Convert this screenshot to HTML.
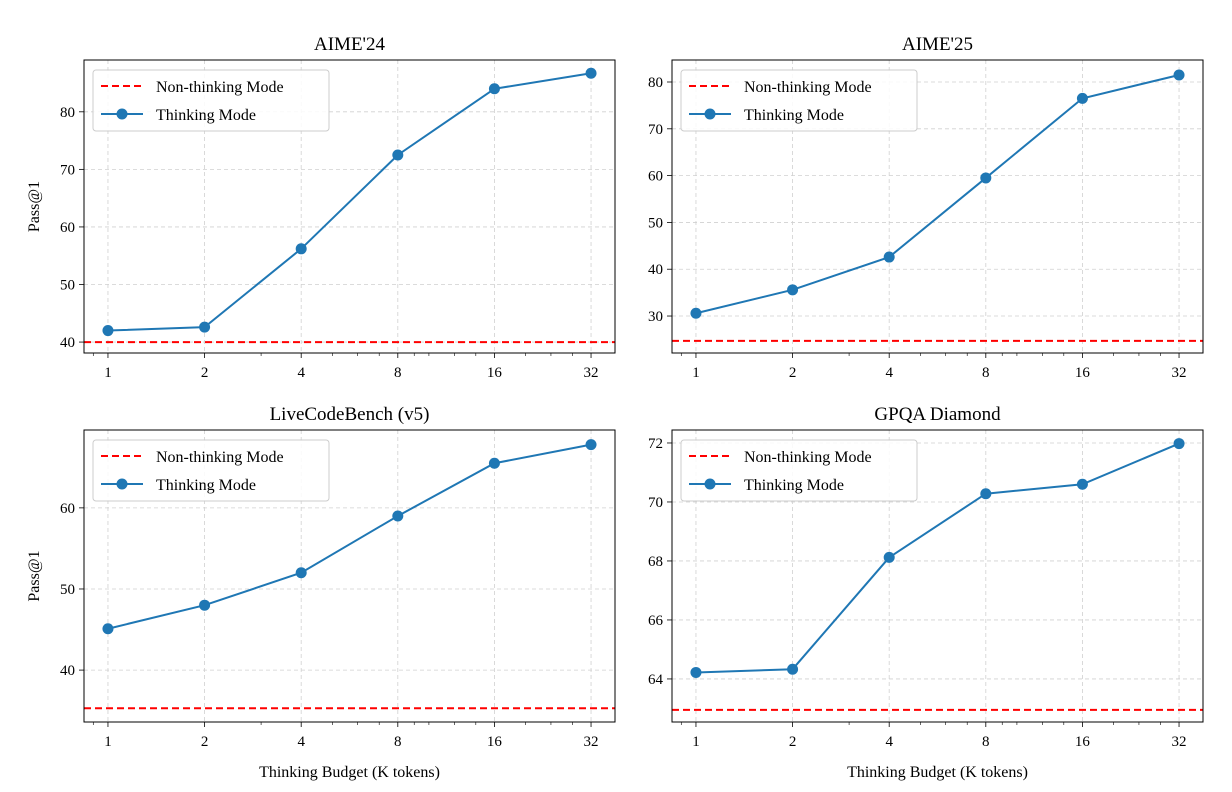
<!DOCTYPE html>
<html><head><meta charset="utf-8"><style>
body{margin:0;background:#fff}
svg{display:block;font-family:"Liberation Serif","DejaVu Serif",serif}
</style></head><body>
<svg id="fig" width="1232" height="792" viewBox="0 0 1232 792"></svg>
<script>
const budgets=[1,2,4,8,16,32];
const titles=["AIME'24","AIME'25","LiveCodeBench (v5)","GPQA Diamond"];
const thinkA24=[42.0,42.6,56.2,72.5,84.0,86.7];
const thinkA25=[30.6,35.6,42.6,59.5,76.5,81.5];
const thinkLCB=[45.1,48.0,52.0,59.0,65.5,67.8];
const thinkGPQA=[64.22,64.33,68.12,70.28,70.6,71.98];
const nonThink=[40.0,24.7,35.3,62.95];
const yTicksA24=[40,50,60,70,80];
const yTicksA25=[30,40,50,60,70,80];
const yTicksLCB=[40,50,60];
const yTicksGPQA=[64,66,68,70,72];
const yRanges=[[38.1,89.0],[22.1,84.7],[33.6,69.6],[62.54,72.44]];
const series=[thinkA24,thinkA25,thinkLCB,thinkGPQA];
const yticks=[yTicksA24,yTicksA25,yTicksLCB,yTicksGPQA];
const boxes=[[84,60,615,353],[672,60,1203,353],[84,430,615,722],[672,430,1203,722]];
const NS="http://www.w3.org/2000/svg";
const svg=document.getElementById('fig');
function mk(tag,attrs,parent,txt){const e=document.createElementNS(NS,tag);for(const k in attrs)e.setAttribute(k,attrs[k]);if(txt!==undefined)e.textContent=txt;(parent||svg).appendChild(e);return e;}
boxes.forEach((b,i)=>{
  const [x0,y0,x1,y1]=b;
  const g=mk('g',{});
  
  
  const lo=-0.248,hi=5.248;
  const xs=v=>x0+(Math.log2(v)-lo)/(hi-lo)*(x1-x0);
  const [ymin,ymax]=yRanges[i];
  const ys=v=>y1-(v-ymin)/(ymax-ymin)*(y1-y0);
  budgets.forEach(v=>{const l=mk('line',{x1:xs(v),x2:xs(v),y1:y0,y2:y1,stroke:'#d0d0d0','stroke-dasharray':'4,3','stroke-width':0.8},g);});
  yticks[i].forEach(v=>{const l=mk('line',{x1:x0,x2:x1,y1:ys(v),y2:ys(v),stroke:'#d0d0d0','stroke-dasharray':'4,3','stroke-width':0.8},g);});
  budgets.forEach(v=>{
    mk('line',{x1:xs(v),x2:xs(v),y1:y1,y2:y1+5,stroke:'#000','stroke-width':0.8},g);
    const t=mk('text',{x:xs(v),y:y1+24,'text-anchor':'middle','font-size':15},g,String(v));
    
  });
  [3,5,6,7,9,10,12,14,20,24,28].forEach(v=>mk('line',{x1:xs(v),x2:xs(v),y1:y1,y2:y1+3,stroke:'#000','stroke-width':0.6},g));
  [0.9].forEach(v=>{if(xs(v)>x0)mk('line',{x1:xs(v),x2:xs(v),y1:y1,y2:y1+3,stroke:'#000','stroke-width':0.6},g);});
  yticks[i].forEach(v=>{
    mk('line',{x1:x0-5,x2:x0,y1:ys(v),y2:ys(v),stroke:'#000','stroke-width':0.8},g);
    const t=mk('text',{x:x0-9,y:ys(v)+5,'text-anchor':'end','font-size':15},g,String(v));
    
  });
  const nl=mk('line',{x1:x0,x2:x1,y1:ys(nonThink[i]),y2:ys(nonThink[i]),stroke:'#ff0000','stroke-width':2,'stroke-dasharray':'7,4'},g);
  
  const d=series[i].map((v,j)=>(j?'L':'M')+xs(budgets[j])+','+ys(v)).join(' ');
  const p=mk('path',{d:d,fill:'none',stroke:'#1f77b4','stroke-width':2},g);
  
  series[i].forEach((v,j)=>{const c=mk('circle',{cx:xs(budgets[j]),cy:ys(v),r:5.5,fill:'#1f77b4'},g);});
  mk('rect',{x:x0,y:y0,width:x1-x0,height:y1-y0,fill:'none',stroke:'#000','stroke-width':1},g);
  const tt=mk('text',{x:(x0+x1)/2,y:y0-10,'text-anchor':'middle','font-size':19},g,titles[i]);
  
  const lg=mk('g',{},g);
  
  mk('rect',{x:x0+9,y:y0+10,width:236,height:61,rx:3,fill:'#fff','fill-opacity':0.85,stroke:'#ccc'},lg);
  mk('line',{x1:x0+17,x2:x0+59,y1:y0+26,y2:y0+26,stroke:'#ff0000','stroke-width':2,'stroke-dasharray':'7,4'},lg);
  const e1=mk('text',{x:x0+72,y:y0+32,'font-size':16},lg,'Non-thinking Mode');
  
  mk('line',{x1:x0+17,x2:x0+59,y1:y0+54,y2:y0+54,stroke:'#1f77b4','stroke-width':2},lg);
  mk('circle',{cx:x0+38,cy:y0+54,r:5.5,fill:'#1f77b4'},lg);
  const e2=mk('text',{x:x0+72,y:y0+60,'font-size':16},lg,'Thinking Mode');
  
  if(i%2===0){const yl=mk('text',{x:0,y:0,'text-anchor':'middle','font-size':16,transform:`translate(39,${(y0+y1)/2}) rotate(-90)`},g,'Pass@1');}
  if(i>=2){const xl=mk('text',{x:(x0+x1)/2,y:y1+55,'text-anchor':'middle','font-size':16},g,'Thinking Budget (K tokens)');}
});
</script>
</body></html>
